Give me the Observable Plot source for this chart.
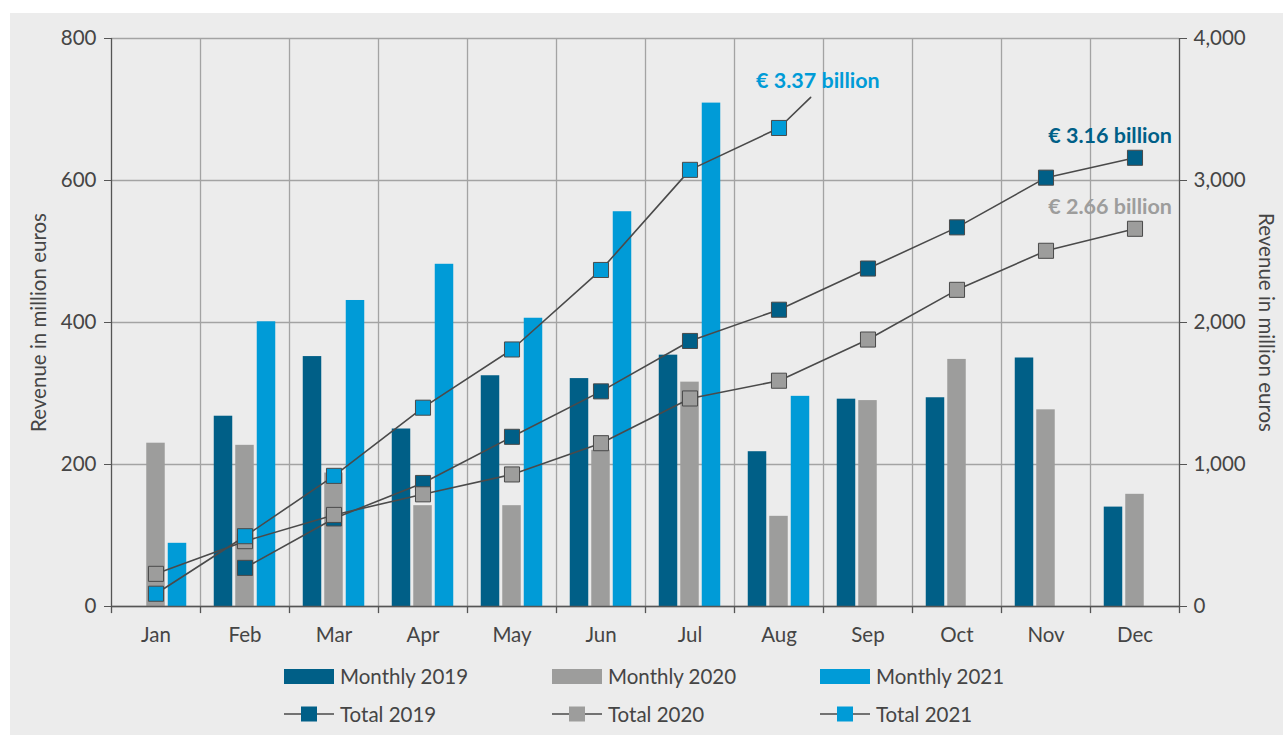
<!DOCTYPE html>
<html>
<head>
<meta charset="utf-8">
<script src="https://cdn.jsdelivr.net/npm/d3@7"></script>
<script src="https://cdn.jsdelivr.net/npm/@observablehq/plot@0.6"></script>
<style>
  html, body { margin: 0; padding: 0; background: #fff; }
  #box { position: absolute; left: 10px; top: 13px; width: 1273px; height: 722px; background: #ececec; font-family: Lato, sans-serif; color: #454545; }
  #legend { position: absolute; left: 274px; top: 644px; }
  .row { display: flex; height: 38px; align-items: center; }
  .item { width: 268px; display: flex; align-items: center; font-size: 20.5px; }
  .item svg { margin-right: 6px; flex: none; }
</style>
</head>
<body>
<div id="box"><div id="chart"></div><div id="legend"></div></div>
<script>
// ---- data ----
const months = ["Jan","Feb","Mar","Apr","May","Jun","Jul","Aug","Sep","Oct","Nov","Dec"];
const monthly2019 = [null, 268, 352, 250, 325, 321, 354, 218, 292, 294, 350, 140];
const monthly2020 = [230, 227, 188, 142, 142, 220, 316, 127, 290, 348, 277, 158];
const monthly2021 = [89, 401, 431, 482, 406, 556, 709, 296];
const total2019 = [null, 272, 620, 870, 1195, 1515, 1870, 2090, 2380, 2670, 3020, 3160];
const total2020 = [230, 460, 645, 790, 930, 1150, 1465, 1590, 1880, 2230, 2505, 2660];
const total2021 = [90, 495, 920, 1400, 1810, 2370, 3075, 3370];
const leftTicks = [0, 200, 400, 600, 800];
const rightTicks = [0, 1000, 2000, 3000, 4000];
const years = ["2019", "2020", "2021"];
const colors = ["#005f87", "#9d9d9c", "#009bd7"];
const annotations = [
  {year: "2019", month: "Dec", total: 3160, text: "€ 3.16 billion"},
  {year: "2020", month: "Dec", total: 2660, text: "€ 2.66 billion"},
  {year: "2021", month: "Aug", total: 3370, text: "€ 3.37 billion"}
];
const leftTitle = "Revenue in million euros";
const rightTitle = "Revenue in million euros";

// ---- tables ----
const toRows = (arr, key) => arr.map((v, i) => ({month: months[i], [key]: v})).filter(d => d[key] != null);
const monthlySeries = [monthly2019, monthly2020, monthly2021].map(a => toRows(a, "value"));
const totalSeries = [total2019, total2020, total2021].map(a => toRows(a, "total"));

const W = 1273, H = 640, mL = 101, mR = 104, mT = 25, mB = 47;
const bw = (W - mL - mR) / months.length;
const barW = 18.5, barStep = 21.5;
const ratio = rightTicks[rightTicks.length - 1] / leftTicks[leftTicks.length - 1];
const gridC = "#a3a3a3", axisC = "#555", lineC = "#4a4a4a", textC = "#454545";
const fs = 20.5;

const marks = [
  Plot.gridY(leftTicks, {stroke: gridC, strokeOpacity: 1, strokeWidth: 1.3}),
  Plot.ruleX(months.slice(1), {x: d => d, dx: -bw / 2, stroke: gridC, strokeWidth: 1.3}),
  Plot.ruleX(months, {x: d => d, y1: 0, y2: -10, dx: -bw / 2, stroke: axisC, strokeWidth: 1.3}),
  Plot.ruleX([months[11]], {x: d => d, y1: 0, y2: -10, dx: bw / 2, stroke: axisC, strokeWidth: 1.3}),
  Plot.ruleX([months[0]], {x: d => d, dx: -bw / 2, stroke: axisC, strokeWidth: 1.3}),
  Plot.ruleX([months[11]], {x: d => d, dx: bw / 2, stroke: axisC, strokeWidth: 1.3}),
];
monthlySeries.forEach((rows, k) => {
  marks.push(Plot.barY(rows, {
    x: "month", y: "value", fill: colors[k],
    insetLeft: (bw - barW) / 2, insetRight: (bw - barW) / 2,
    dx: (k - 1) * barStep
  }));
});
marks.push(Plot.ruleY([0], {stroke: axisC, strokeWidth: 1.3}));
totalSeries.forEach((rows) => {
  marks.push(Plot.line(rows, {x: "month", y: d => d.total / ratio, stroke: lineC, strokeWidth: 1.6}));
});
// leader line for the 2021 annotation
marks.push(Plot.vector([annotations[2]], {
  x: "month", y: d => d.total / ratio, length: 44, rotate: 46, anchor: "start",
  stroke: lineC, strokeWidth: 1.6,
  shape: {draw(context, l) { context.moveTo(0, 0); context.lineTo(0, -l); }}
}));
totalSeries.forEach((rows, k) => {
  marks.push(Plot.dot(rows, {x: "month", y: d => d.total / ratio, symbol: "square", r: 8.5,
    fill: colors[k], stroke: lineC, strokeWidth: 1}));
});
marks.push(
  Plot.text(annotations.slice(0, 2), {x: "month", y: d => d.total / ratio, text: "text",
    textAnchor: "end", lineAnchor: "bottom", dx: 37, dy: -15, fontSize: 21.5, fontWeight: "bold",
    fill: d => colors[years.indexOf(d.year)]}),
  Plot.text([annotations[2]], {x: "month", y: d => d.total / ratio, text: "text",
    textAnchor: "start", lineAnchor: "bottom", dx: -23, dy: -40, fontSize: 21.5, fontWeight: "bold",
    fill: colors[2]}),
  Plot.axisX({tickSize: 0, tickPadding: 21, fontSize: fs, fill: textC, label: null}),
  Plot.axisY(leftTicks, {anchor: "left", tickSize: 7, tickPadding: 8, fontSize: fs, fill: textC, stroke: axisC, label: null}),
  Plot.axisY(rightTicks.map(d => d / ratio), {anchor: "right", tickSize: 7, tickPadding: 7, fontSize: fs,
    fill: textC, stroke: axisC, label: null, tickFormat: d => d3.format(",")(d * ratio)}),
  Plot.text([leftTitle], {frameAnchor: "left", textAnchor: "middle", dx: -72, rotate: -90, fontSize: fs, fill: textC}),
  Plot.text([rightTitle], {frameAnchor: "right", textAnchor: "middle", dx: 86, rotate: 90, fontSize: fs, fill: textC})
);

const chart = Plot.plot({
  width: W, height: H, marginLeft: mL, marginRight: mR, marginTop: mT, marginBottom: mB,
  style: {background: "transparent", fontFamily: "Lato, sans-serif", fontSize: fs + "px", color: textC},
  x: {domain: months, padding: 0, label: null},
  y: {domain: [leftTicks[0], leftTicks[leftTicks.length - 1]], label: null},
  marks
});
document.getElementById("chart").appendChild(chart);

// ---- legend ----
const legend = document.getElementById("legend");
const rowBars = document.createElement("div"); rowBars.className = "row";
const rowLines = document.createElement("div"); rowLines.className = "row";
years.forEach((y, k) => {
  const a = document.createElement("div"); a.className = "item";
  a.innerHTML = `<svg width="50" height="16"><rect x="0" y="1" width="50" height="15" fill="${colors[k]}"/></svg><span>Monthly ${y}</span>`;
  rowBars.appendChild(a);
  const b = document.createElement("div"); b.className = "item";
  b.innerHTML = `<svg width="50" height="16"><line x1="0" x2="50" y1="8" y2="8" stroke="${lineC}" stroke-width="1.6"/><rect x="17" y="0.5" width="16" height="15" fill="${colors[k]}"/></svg><span>Total ${y}</span>`;
  rowLines.appendChild(b);
});
legend.appendChild(rowBars);
legend.appendChild(rowLines);
</script>
</body>
</html>
